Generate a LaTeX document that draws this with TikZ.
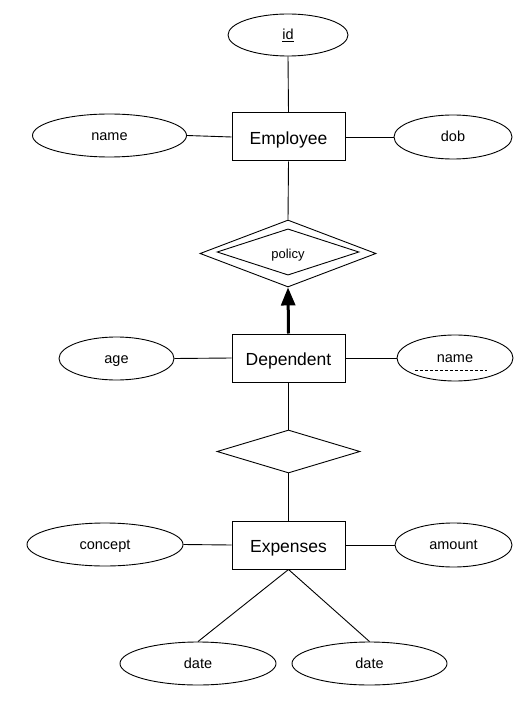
\documentclass[tikz,border=0pt]{standalone}
\usepackage{fontspec}
\setmainfont{Liberation Sans}
\usetikzlibrary{shapes.geometric,arrows.meta,calc}
\begin{document}
\begin{tikzpicture}[x=1pt,y=-1pt,
  ent/.style={draw,line width=1pt,minimum width=113pt,minimum height=48pt,inner sep=0pt,text height=15pt,text depth=0pt,font=\fontsize{17.5}{20}\selectfont},
  attr/.style={draw,ellipse,line width=0.9pt,inner sep=0pt,text height=9.5pt,text depth=0pt,font=\fontsize{14.5}{17}\selectfont},
  rel/.style={draw,diamond,line width=0.9pt,inner sep=0pt},
  conn/.style={line width=0.9pt}]
\useasboundingbox[fill=white] (0,0) rectangle (530,708);
% nodes
\node[attr,minimum width=120pt,minimum height=42pt] (id) at (288,35) {\underline{id}};
\node[ent] (emp) at (288.5,137) {Employee};
\node[attr,minimum width=154pt,minimum height=43pt] (ename) at (109.5,135.5) {name};
\node[attr,minimum width=118pt,minimum height=44pt] (dob) at (453,137) {dob};
\node[rel,minimum width=176pt,minimum height=67pt] (pol) at (288,253.5) {};
\node[rel,minimum width=142pt,minimum height=42pt,text height=13pt,text depth=0pt,font=\fontsize{13}{15}\selectfont] (poli) at (288,252) {policy};
\node[ent] (dep) at (288.5,358) {Dependent};
\node[attr,minimum width=115pt,minimum height=43pt] (age) at (116.5,358.5) {age};
\node[attr,minimum width=116pt,minimum height=46pt] (dname) at (455,358) {name};
\draw[line width=0.8pt,dash pattern=on 3pt off 2pt] ($(dname.center)+(-40,12)$) -- ($(dname.center)+(32,12)$);
\node[rel,minimum width=143pt,minimum height=43pt] (r2) at (288.5,451.5) {};
\node[ent] (exp) at (288.5,545) {Expenses};
\node[attr,minimum width=156pt,minimum height=43pt] (concept) at (105,544.5) {concept};
\node[attr,minimum width=117pt,minimum height=44pt] (amount) at (453.5,545) {amount};
\node[attr,minimum width=156pt,minimum height=43pt] (d1) at (198,663.5) {date};
\node[attr,minimum width=155pt,minimum height=43pt] (d2) at (369.5,663.5) {date};
% connectors
\draw[conn] (id.south) -- (emp.north);
\draw[conn] (ename.east) -- (emp.west);
\draw[conn] (emp.east) -- (dob.west);
\draw[conn] (emp.south) -- (pol.north);
\draw[line width=3pt,-{Triangle[length=18pt,width=14pt]}] (dep.north) -- (pol.south);
\draw[conn] (age.east) -- (dep.west);
\draw[conn] (dep.east) -- (dname.west);
\draw[conn] (dep.south) -- (r2.north);
\draw[conn] (r2.south) -- (exp.north);
\draw[conn] (concept.east) -- (exp.west);
\draw[conn] (exp.east) -- (amount.west);
\draw[conn] (exp.south) -- (d1.north);
\draw[conn] (exp.south) -- (d2.north);
\end{tikzpicture}
\end{document}
